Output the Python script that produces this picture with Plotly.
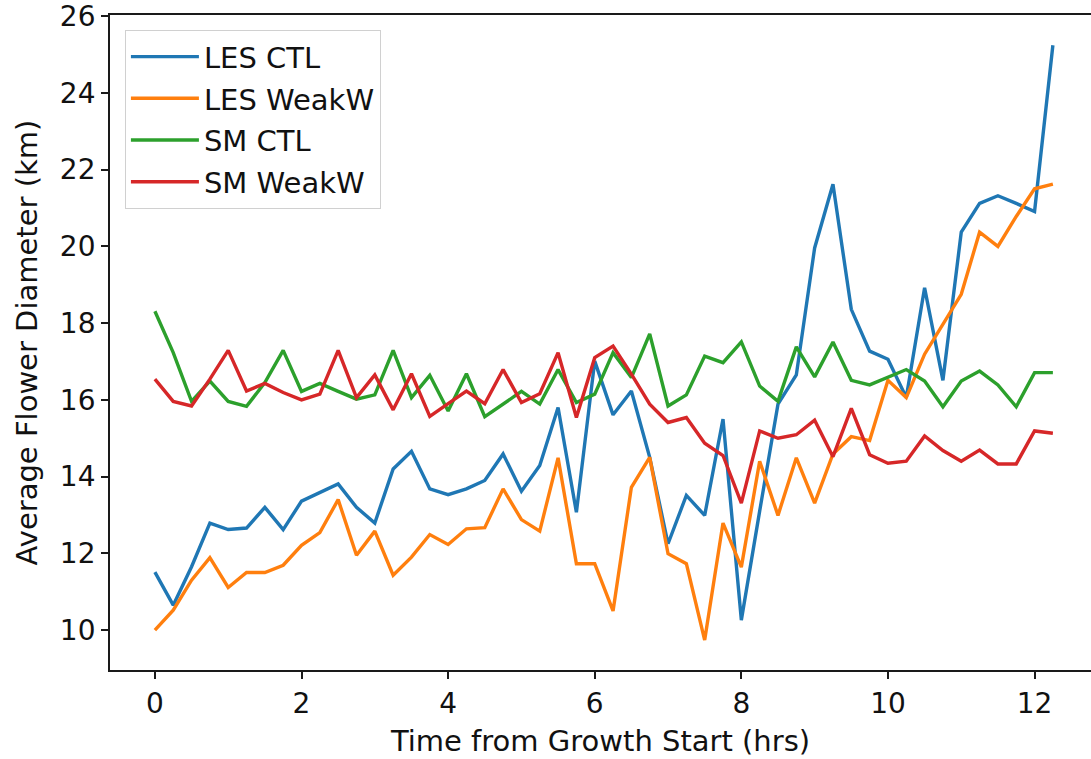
import plotly.graph_objects as go

time_hrs = [0.0, 0.25, 0.5, 0.75, 1.0, 1.25, 1.5, 1.75, 2.0, 2.25, 2.5, 2.75,
            3.0, 3.25, 3.5, 3.75, 4.0, 4.25, 4.5, 4.75, 5.0, 5.25, 5.5, 5.75,
            6.0, 6.25, 6.5, 6.75, 7.0, 7.25, 7.5, 7.75, 8.0, 8.25, 8.5, 8.75,
            9.0, 9.25, 9.5, 9.75, 10.0, 10.25, 10.5, 10.75, 11.0, 11.25, 11.5,
            11.75, 12.0, 12.25]

les_ctl = [11.51, 10.65, 11.65, 12.79, 12.62, 12.66, 13.2, 12.62, 13.36, 13.59,
           13.81, 13.2, 12.79, 14.2, 14.66, 13.68, 13.53, 13.68, 13.9, 14.59,
           13.62, 14.29, 15.8, 13.07, 17.01, 15.61, 16.23, 14.5, 12.25, 13.51,
           12.99, 15.5, 10.26, 13.1, 15.89, 16.65, 19.96, 21.62, 18.36, 17.27,
           17.06, 16.06, 18.92, 16.51, 20.37, 21.12, 21.32, 21.12, 20.91, 25.24]

les_weakw = [10.0, 10.52, 11.3, 11.89, 11.11, 11.5, 11.5, 11.69, 12.21, 12.54,
             13.4, 11.95, 12.58, 11.43, 11.9, 12.49, 12.23, 12.64, 12.67, 13.68,
             12.88, 12.58, 14.49, 11.73, 11.73, 10.5, 13.72, 14.5, 11.99, 11.73,
             9.74, 12.79, 11.64, 14.4, 12.99, 14.49, 13.31, 14.59, 15.04, 14.94,
             16.51, 16.06, 17.19, 17.97, 18.75, 20.37, 20.0, 20.78, 21.5, 21.62]

sm_ctl = [18.31, 17.23, 15.96, 16.49, 15.96, 15.83, 16.45, 17.29, 16.22, 16.43,
          16.22, 16.02, 16.13, 17.29, 16.06, 16.64, 15.71, 16.68, 15.56, 15.9,
          16.22, 15.89, 16.79, 15.93, 16.15, 17.23, 16.58, 17.72, 15.84, 16.13,
          17.14, 16.97, 17.51, 16.36, 15.96, 17.38, 16.6, 17.51, 16.51, 16.39,
          16.58, 16.79, 16.49, 15.82, 16.49, 16.75, 16.39, 15.82, 16.71, 16.71]

sm_weakw = [16.54, 15.96, 15.84, 16.54, 17.29, 16.23, 16.43, 16.19, 16.0, 16.15,
            17.29, 16.06, 16.65, 15.74, 16.68, 15.57, 15.9, 16.23, 15.9, 16.79,
            15.93, 16.16, 17.23, 15.54, 17.1, 17.4, 16.67, 15.89, 15.41, 15.54,
            14.87, 14.55, 13.31, 15.19, 15.0, 15.09, 15.47, 14.52, 15.78, 14.57,
            14.35, 14.4, 15.06, 14.68, 14.4, 14.69, 14.33, 14.33, 15.19, 15.13]

series_names = ["LES CTL", "LES WeakW", "SM CTL", "SM WeakW"]
series_values = [les_ctl, les_weakw, sm_ctl, sm_weakw]
series_colors = ["#1f77b4", "#ff7f0e", "#2ca02c", "#d62728"]

x_ticks = [0, 2, 4, 6, 8, 10, 12]
y_ticks = [10, 12, 14, 16, 18, 20, 22, 24, 26]

FONT = "DejaVu Sans"
FS = 29

fig = go.Figure()
for name, vals, col in zip(series_names, series_values, series_colors):
    fig.add_trace(go.Scatter(x=time_hrs, y=vals, mode="lines", name=name,
                             legendgroup=name,
                             line=dict(color=col, width=3.4)))

axis_common = dict(showgrid=False, zeroline=False, showline=True,
                   linecolor="#1a1a1a", linewidth=1.8, ticks="outside",
                   ticklen=7, tickwidth=1.8, tickcolor="#1a1a1a",
                   ticklabeloverflow="allow",
                   tickfont=dict(family=FONT, size=FS - 1, color="#111111"))

fig.update_layout(
    width=1091, height=759,
    margin=dict(l=110, r=0, t=15, b=89),
    paper_bgcolor="white", plot_bgcolor="white",
    font=dict(family=FONT, size=FS, color="#111111"),
    showlegend=True,
    legend=dict(x=0.015, y=0.977, xanchor="left", yanchor="top",
                bgcolor="rgba(255,255,255,0.8)", bordercolor="#d0d0d0",
                borderwidth=1.2, tracegroupgap=1, itemwidth=68,
                font=dict(family=FONT, size=FS, color="#111111")),
)

fig.update_xaxes(range=[-0.6125, 12.77], tickvals=x_ticks, mirror=True,
                 title=dict(text="Time from Growth Start (hrs)", standoff=12,
                            font=dict(family=FONT, size=FS)),
                 **axis_common)
fig.update_yaxes(range=[8.96, 26.03], tickvals=y_ticks,
                 title=dict(text="Average Flower Diameter (km)", standoff=14,
                            font=dict(family=FONT, size=FS)),
                 **axis_common)

fig.write_html("out.html")
